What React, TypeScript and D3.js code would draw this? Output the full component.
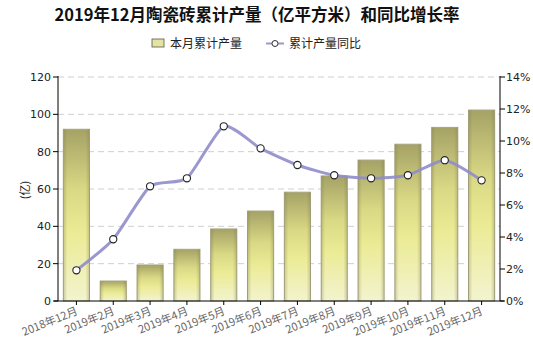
import React from "react";
import * as d3 from "d3";

const categories = ["2018年12月","2019年2月","2019年3月","2019年4月","2019年5月","2019年6月","2019年7月","2019年8月","2019年9月","2019年10月","2019年11月","2019年12月"];
const production = [92, 10.7, 19.3, 27.7, 38.6, 48.2, 58.3, 67, 75.5, 84, 93, 102.3];
const yoy = [1.92, 3.86, 7.17, 7.67, 10.92, 9.54, 8.5, 7.86, 7.67, 7.86, 8.8, 7.54];
const leftTicks = [0, 20, 40, 60, 80, 100, 120];
const rightTicks = [0, 2, 4, 6, 8, 10, 12, 14];

const W = 533, H = 356;
const M = { left: 58, right: 500, top: 77, bottom: 301 };
const font = "'DejaVu Sans', Verdana, sans-serif";
const cjk = "'Noto Sans CJK SC', sans-serif";

export default function App() {
  const x = d3.scaleBand<string>().domain(categories).range([M.left, M.right]).paddingInner(0.29).paddingOuter(0.145);
  const yL = d3.scaleLinear().domain([0, 120]).range([M.bottom, M.top]);
  const yR = d3.scaleLinear().domain([0, 14]).range([M.bottom, M.top]);
  const cx = (c: string) => (x(c) as number) + x.bandwidth() / 2;
  const line = d3.line<number>().x((_, i) => cx(categories[i])).y(d => yR(d)).curve(d3.curveCardinal.tension(0.4));

  return (
    <svg width={W} height={H} style={{ position: "absolute", left: 0, top: 0, background: "#fff" }}>
      <defs>
        <linearGradient id="barV" x1="0" y1="0" x2="0" y2="1">
          <stop offset="0" stopColor="#a5a266" />
          <stop offset="0.35" stopColor="#d9d884" />
          <stop offset="0.6" stopColor="#ebeb95" />
          <stop offset="1" stopColor="#f3f3cf" />
        </linearGradient>
        <linearGradient id="barH" x1="0" y1="0" x2="1" y2="0">
          <stop offset="0" stopColor="#7d7a50" stopOpacity="0.35" />
          <stop offset="0.15" stopColor="#7d7a50" stopOpacity="0" />
          <stop offset="0.85" stopColor="#7d7a50" stopOpacity="0" />
          <stop offset="1" stopColor="#7d7a50" stopOpacity="0.35" />
        </linearGradient>
      </defs>
      <text x={257} y={21} textAnchor="middle" fontFamily={cjk} fontSize={16.5} fontWeight="bold" fill="#111">
        2019年12月陶瓷砖累计产量（亿平方米）和同比增长率
      </text>
      {/* legend */}
      <rect x={152} y={39} width={12} height={8} fill="#e4e4a0" stroke="#555" strokeWidth={0.8} />
      <text x={170} y={48} fontFamily={cjk} fontSize={12} fill="#222">本月累计产量</text>
      <line x1={266} y1={43.5} x2={284} y2={43.5} stroke="#9a98c8" strokeWidth={2} />
      <circle cx={275} cy={43.5} r={3} fill="#fff" stroke="#333" strokeWidth={1} />
      <text x={289} y={48} fontFamily={cjk} fontSize={12} fill="#222">累计产量同比</text>

      {/* grid */}
      {leftTicks.filter(t => t > 0).map(t => (
        <line key={t} x1={M.left} x2={M.right} y1={yL(t)} y2={yL(t)} stroke="#cfcfcf" strokeDasharray="6,4" />
      ))}

      {/* bars */}
      {production.map((v, i) => (
        <g key={i}>
          <rect x={x(categories[i])} y={yL(v)} width={x.bandwidth()} height={yL(0) - yL(v)} fill="url(#barV)" stroke="#a8a680" strokeWidth={1} />
          <rect x={x(categories[i])} y={yL(v)} width={x.bandwidth()} height={yL(0) - yL(v)} fill="url(#barH)" />
        </g>
      ))}

      {/* line */}
      <path d={line(yoy) || ""} fill="none" stroke="#8f8dca" strokeWidth={3} strokeOpacity={0.9} />
      {yoy.map((v, i) => (
        <circle key={i} cx={cx(categories[i])} cy={yR(v)} r={3.6} fill="#fff" stroke="#222" strokeWidth={1.1} />
      ))}

      {/* axes */}
      <line x1={M.left} x2={M.left} y1={M.top - 1} y2={M.bottom} stroke="#000" />
      <line x1={M.right} x2={M.right} y1={M.top - 1} y2={M.bottom} stroke="#000" />
      <line x1={M.left - 4} x2={M.right + 4} y1={M.bottom} y2={M.bottom} stroke="#000" />
      {leftTicks.map(t => (
        <g key={t}>
          <line x1={M.left - 5} x2={M.left} y1={yL(t)} y2={yL(t)} stroke="#000" />
          <text x={M.left - 7} y={yL(t) + 4} textAnchor="end" fontFamily={font} fontSize={11} fill="#222">{t}</text>
        </g>
      ))}
      {rightTicks.map(t => (
        <g key={t}>
          <line x1={M.right} x2={M.right + 5} y1={yR(t)} y2={yR(t)} stroke="#000" />
          <text x={M.right + 6} y={yR(t) + 4} textAnchor="start" fontFamily={font} fontSize={11} fill="#222">{t}%</text>
        </g>
      ))}
      {categories.map(c => (
        <g key={c}>
          <line x1={cx(c)} x2={cx(c)} y1={M.bottom} y2={M.bottom + 4} stroke="#000" />
          <text transform={`translate(${cx(c) + 2},${M.bottom + 13}) rotate(-22)`} textAnchor="end" fontFamily={cjk} fontSize={11} fill="#666">{c}</text>
        </g>
      ))}
      <text transform={`translate(29,190) rotate(-90)`} textAnchor="middle" fontFamily={cjk} fontSize={11} fill="#222">(亿)</text>
    </svg>
  );
}
